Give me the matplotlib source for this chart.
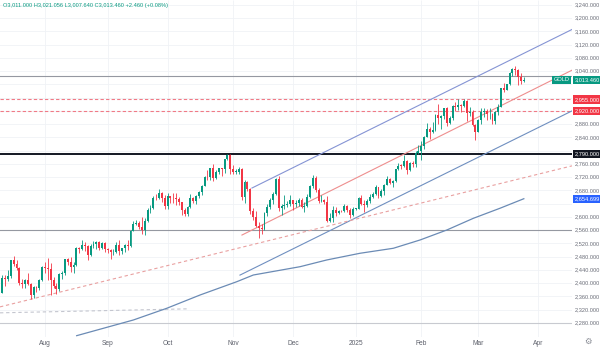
import matplotlib
matplotlib.use('Agg')
import matplotlib.pyplot as plt
import matplotlib.transforms as mtransforms
import numpy as np
import pandas as pd

plt.rcParams['font.family'] = ['Liberation Sans', 'DejaVu Sans']

# Daily GOLD candles, 10 Jul 2024 - 25 Mar 2025 (weekdays)
dates = pd.bdate_range('2024-07-10', '2025-03-25')

opens = [
    # Jul
    2363, 2371, 2415, 2411, 2422, 2469, 2459, 2445, 2400, 2396, 2409, 2398, 2364, 2387, 2384, 2410,
    # Aug
    2447, 2446, 2443, 2409, 2390, 2382, 2427, 2431, 2472, 2465, 2447, 2456, 2507, 2504, 2514, 2512,
    2484, 2512, 2518, 2524, 2505, 2520,
    # Sep
    2503, 2500, 2493, 2495, 2516, 2497, 2506, 2516, 2512, 2558, 2578, 2582, 2569, 2559, 2587, 2622,
    2628, 2657, 2657, 2672, 2658,
    # Oct
    2634, 2662, 2657, 2656, 2653, 2644, 2622, 2608, 2631, 2657, 2649, 2663, 2674, 2693, 2721, 2720,
    2748, 2716, 2735, 2747, 2743, 2774, 2788,
    # Nov
    2743, 2736, 2736, 2743, 2659, 2706, 2685, 2619, 2598, 2573, 2565, 2563, 2612, 2631, 2651, 2670,
    2715, 2626, 2633, 2637, 2639,
    # Dec
    2650, 2640, 2643, 2650, 2631, 2633, 2660, 2694, 2718, 2680, 2648, 2652, 2646, 2587, 2595, 2622,
    2612, 2618, 2617, 2634, 2621, 2606,
    # Jan
    2624, 2625, 2658, 2640, 2635, 2648, 2661, 2670, 2690, 2662, 2677, 2697, 2715, 2703, 2708, 2745,
    2755, 2755, 2770, 2740, 2763, 2760, 2794,
    # Feb
    2798, 2815, 2842, 2866, 2856, 2861, 2907, 2898, 2904, 2928, 2882, 2898, 2935, 2933, 2939, 2935,
    2951, 2915, 2916, 2876,
    # Mar
    2857, 2893, 2918, 2920, 2910, 2910, 2889, 2916, 2933, 2988, 2984, 3000, 3034, 3047, 3044, 3023,
    3011.0,
]
highs = [
    2376, 2424, 2425, 2440, 2469, 2483, 2470, 2449, 2412, 2412, 2431, 2400, 2391, 2392, 2413, 2451,
    2463, 2477, 2461, 2419, 2401, 2431, 2437, 2474, 2477, 2479, 2464, 2509, 2510, 2531, 2525, 2514,
    2517, 2527, 2528, 2526, 2524, 2523,
    2506, 2503, 2503, 2523, 2529, 2507, 2518, 2529, 2560, 2586, 2590, 2587, 2600, 2595, 2626, 2635,
    2664, 2670, 2685, 2674, 2665,
    2673, 2664, 2672, 2671, 2660, 2645, 2626, 2633, 2669, 2660, 2666, 2678, 2696, 2723, 2740, 2749,
    2759, 2740, 2749, 2747, 2775, 2790, 2790,
    2758, 2745, 2750, 2749, 2710, 2709, 2686, 2627, 2617, 2584, 2578, 2615, 2639, 2657, 2674, 2716,
    2722, 2638, 2665, 2649, 2666,
    2652, 2650, 2657, 2656, 2645, 2668, 2696, 2726, 2722, 2688, 2666, 2654, 2664, 2612, 2632, 2630,
    2622, 2620, 2639, 2637, 2628, 2630,
    2626, 2660, 2665, 2650, 2655, 2670, 2675, 2697, 2690, 2683, 2700, 2724, 2717, 2710, 2746, 2763,
    2760, 2786, 2772, 2765, 2770, 2799, 2817,
    2830, 2845, 2882, 2870, 2886, 2911, 2942, 2909, 2930, 2933, 2906, 2937, 2947, 2955, 2941, 2956,
    2954, 2931, 2923, 2880,
    2896, 2928, 2930, 2927, 2930, 2915, 2921, 2941, 2990, 3005, 3001, 3038, 3050, 3057, 3047, 3035,
    3021.056,
]
lows = [
    2358, 2369, 2392, 2407, 2415, 2451, 2440, 2393, 2384, 2385, 2395, 2353, 2356, 2374, 2379, 2407,
    2430, 2410, 2364, 2385, 2368, 2375, 2413, 2423, 2455, 2432, 2431, 2452, 2490, 2500, 2498, 2470,
    2482, 2505, 2503, 2499, 2502, 2494,
    2490, 2472, 2484, 2490, 2485, 2487, 2494, 2500, 2510, 2556, 2575, 2563, 2547, 2546, 2585, 2613,
    2625, 2652, 2654, 2644, 2625,
    2625, 2642, 2643, 2635, 2635, 2606, 2604, 2603, 2626, 2641, 2638, 2656, 2667, 2692, 2710, 2712,
    2709, 2714, 2729, 2723, 2733, 2771, 2730,
    2730, 2730, 2728, 2652, 2643, 2677, 2610, 2590, 2568, 2537, 2547, 2560, 2603, 2623, 2638, 2667,
    2617, 2605, 2623, 2631, 2633,
    2621, 2630, 2632, 2626, 2614, 2630, 2658, 2686, 2674, 2643, 2645, 2638, 2583, 2584, 2584, 2602,
    2609, 2615, 2614, 2615, 2597, 2604,
    2622, 2624, 2635, 2614, 2630, 2643, 2656, 2665, 2657, 2661, 2665, 2696, 2700, 2690, 2704, 2741,
    2743, 2752, 2730, 2737, 2750, 2751, 2791,
    2772, 2805, 2840, 2834, 2853, 2860, 2880, 2864, 2895, 2875, 2880, 2894, 2921, 2922, 2918, 2933,
    2890, 2905, 2875, 2832,
    2857, 2880, 2903, 2893, 2897, 2880, 2880, 2907, 2931, 2977, 2982, 2999, 3024, 3028, 2999, 3002,
    3007.64,
]
closes = [
    2371, 2415, 2411, 2422, 2469, 2459, 2445, 2400, 2396, 2409, 2398, 2364, 2387, 2384, 2410, 2447,
    2446, 2443, 2409, 2390, 2382, 2427, 2431, 2472, 2465, 2447, 2456, 2507, 2504, 2514, 2512, 2484,
    2512, 2518, 2524, 2505, 2520, 2503,
    2500, 2493, 2495, 2516, 2497, 2506, 2516, 2512, 2558, 2578, 2582, 2569, 2559, 2587, 2622, 2628,
    2657, 2656, 2672, 2658, 2634,
    2662, 2657, 2656, 2653, 2644, 2622, 2608, 2631, 2657, 2649, 2663, 2674, 2693, 2721, 2720, 2748,
    2716, 2735, 2747, 2743, 2774, 2788, 2743,
    2736, 2736, 2743, 2659, 2706, 2685, 2619, 2598, 2573, 2565, 2563, 2612, 2631, 2651, 2670, 2715,
    2626, 2633, 2637, 2639, 2650,
    2640, 2643, 2650, 2631, 2633, 2660, 2694, 2718, 2680, 2648, 2652, 2646, 2587, 2595, 2622, 2612,
    2618, 2617, 2634, 2621, 2606, 2624,
    2625, 2658, 2640, 2635, 2648, 2661, 2670, 2690, 2662, 2677, 2697, 2715, 2703, 2708, 2745, 2755,
    2754, 2770, 2740, 2763, 2760, 2794, 2798,
    2815, 2842, 2866, 2856, 2861, 2907, 2898, 2904, 2928, 2882, 2898, 2935, 2933, 2939, 2935, 2951,
    2915, 2916, 2876, 2857,
    2893, 2918, 2920, 2910, 2911, 2889, 2916, 2933, 2988, 2984, 3000, 3034, 3047, 3044, 3023, 3011,
    3013.46,
]

# Drawn horizontal levels
prev_level = 3025
red_levels = [2955, 2920]
key_level = 2790
support_level = 2560
base_level = 2278

# Channel and trend lines as (bar, price) end points
channel_upper = [(88.6, 2687), (200.9, 3166)]
channel_mid = [(85.1, 2545), (200.9, 3043)]
channel_lower = [(84.4, 2424), (200.9, 2920)]
trend_red = [(0.2, 2328), (200.9, 2754)]
trend_grey = [(0.2, 2310), (65.8, 2322)]

# Moving average
ma_bar = [27.1, 47.0, 58.7, 70.4, 83.3, 89.1, 105.5, 114.8, 126.5, 138.2, 147.6, 157.0, 166.3, 175.6, 184]
ma_val = [2241.0, 2288.4, 2323.7, 2363.9, 2404.1, 2424.3, 2449.4, 2469.6, 2489.9, 2505.0, 2530.1,
          2560.3, 2595.6, 2625.8, 2654.699]

UP = '#089981'
DOWN = '#f23645'

fig = plt.figure(figsize=(6, 3.5), dpi=100)
ax = fig.add_axes([0, 13 / 350, 572 / 600, 337 / 350])
ax.set_xlim(0.2, 200.9)
ax.set_ylim(2237, 3255)
for s in ax.spines.values():
    s.set_visible(False)
ax.set_yticks([])

# month ticks (first bar of each month, plus Apr 1 in the empty space)
x = np.arange(len(dates))
month_idx = [i for i in range(1, len(dates)) if dates[i].month != dates[i - 1].month]
month_idx.append(len(dates) - 1 + len(pd.bdate_range(dates[-1], '2025-04-01')) - 1)
month_lbl = ['Aug', 'Sep', 'Oct', 'Nov', 'Dec', '2025', 'Feb', 'Mar', 'Apr']

price_ticks = np.arange(2280, 3241, 40)
ax.hlines(price_ticks, 0, 201, colors='#f0f2f6', lw=0.6, zorder=0)
ax.vlines(month_idx, 2237, 3255, colors='#f0f2f6', lw=0.6, zorder=0)

# levels and drawings
ax.axhline(prev_level, color='#9598a1', lw=0.8, zorder=1)
for lv in red_levels:
    ax.axhline(lv, color='#f07a86', lw=0.8, ls=(0, (3, 2)), zorder=1)
ax.axhline(key_level, color='#131722', lw=1.4, zorder=1)
ax.axhline(support_level, color='#9598a1', lw=0.8, zorder=1)
ax.axhline(base_level, color='#c8cad0', lw=0.8, zorder=1)

for line, col, ls in [(channel_upper, '#8594d4', '-'), (channel_lower, '#6f8fc0', '-'),
                      (channel_mid, '#ee8e8e', '-'), (trend_red, '#e9a0a0', (0, (3, 2.5))),
                      (trend_grey, '#c4c6cf', (0, (3, 2.5)))]:
    xs, ys = zip(*line)
    ax.plot(xs, ys, color=col, lw=0.8, ls=ls, zorder=1)

ax.plot(ma_bar, ma_val, color='#6b8bb5', lw=0.9, zorder=1)

# candles
o = np.array(opens)
h = np.array(highs)
l = np.array(lows)
c = np.array(closes)
cols = np.where(c >= o, UP, DOWN)
ax.vlines(x, l, h, colors=cols, lw=0.6, zorder=3)
body = np.maximum(np.abs(c - o), 1.5)
ax.bar(x, body, bottom=np.minimum(o, c), width=0.66, color=cols, zorder=4, linewidth=0)

ax.set_xticks(month_idx)
ax.set_xticklabels(month_lbl)
ax.tick_params(axis='x', length=0, pad=2.5, labelsize=4.8, labelcolor='#5d606b')

# price scale, with tagged levels drawn over it
last = closes[-1]
tags = [(last, UP), (red_levels[0], DOWN), (red_levels[1], DOWN),
        (key_level, '#131722'), (ma_val[-1], '#2962ff')]

tr = mtransforms.blended_transform_factory(ax.transAxes, ax.transData)
for p in price_ticks:
    if min(abs(p - t[0]) for t in tags) < 20:
        continue
    ax.text(1.004, p, f'{p:,.3f}', transform=tr, fontsize=4.1, color='#6a6d78',
            ha='left', va='center', clip_on=False)

for price, color in tags:
    ax.text(1.004, price, f'{price:,.3f}', transform=tr, fontsize=4.1, color='white',
            ha='left', va='center', clip_on=False, zorder=6,
            bbox=dict(boxstyle='square,pad=0.3', fc=color, ec='none'))
ax.text(0.996, last, 'GOLD', transform=tr, fontsize=4.1, color='white', ha='right',
        va='center', zorder=6, bbox=dict(boxstyle='square,pad=0.3', fc=UP, ec='none'))

# OHLC header
chg = closes[-1] - opens[-1]
header = (f'O{opens[-1]:,.3f} H{highs[-1]:,.3f} L{lows[-1]:,.3f} C{closes[-1]:,.3f} '
          f'{chg:+.3f} ({chg / opens[-1] * 100:+.2f}%)')
fig.text(3 / 600, 1 - 5 / 350, header, fontsize=4.1, color=UP, ha='left', va='center')

fig.text(588 / 600, 1 - 341 / 350, '\u2699', fontsize=6, color='#888b94', ha='center', va='center',
         family='DejaVu Sans')

fig.savefig('out.png', dpi=100)
